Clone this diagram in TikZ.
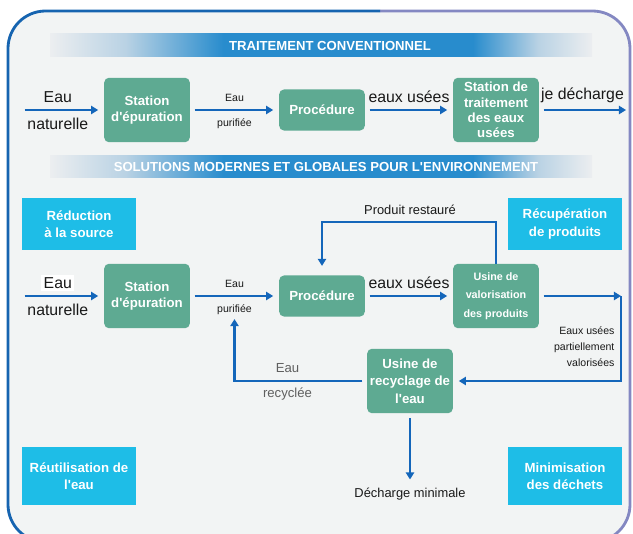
\documentclass[tikz,border=0pt]{standalone}
\usepackage{fontspec}
\setmainfont{Liberation Sans}
\usetikzlibrary{arrows.meta,positioning}

\definecolor{procgreen}{RGB}{94,170,146}
\definecolor{goalcyan}{RGB}{30,189,231}
\definecolor{flowblue}{RGB}{20,102,186}
\definecolor{frameblue}{RGB}{22,100,176}
\definecolor{framegray}{RGB}{132,136,194}
\definecolor{bgpanel}{RGB}{242,244,244}
\definecolor{bannerblue}{RGB}{40,140,205}
\definecolor{bannerlight}{RGB}{236,238,240}
\definecolor{bannermid}{RGB}{185,210,228}
\definecolor{txtgray}{RGB}{95,95,95}
\definecolor{txtdark}{RGB}{25,25,25}

\newcommand{\apos}{\textquotesingle}

\pgfdeclarehorizontalshading{bannerfade}{100bp}{color(0bp)=(bannerlight); color(25bp)=(bannerlight); color(32bp)=(bannermid); color(41bp)=(bannerblue); color(64bp)=(bannerblue); color(70bp)=(bannermid); color(75bp)=(bannerlight); color(100bp)=(bannerlight)}

\begin{document}
\begin{tikzpicture}[x=0.03cm,y=-0.03cm,
    procbox/.style={rectangle, rounded corners=4pt, fill=procgreen, text=white, align=center,
        font=\fontsize{11.3}{13.6}\selectfont\bfseries, minimum width=73pt, minimum height=55pt, inner sep=2pt},
    goalbox/.style={rectangle, fill=goalcyan, text=white, align=center,
        font=\fontsize{11.3}{14.8}\selectfont\bfseries, minimum width=97pt, minimum height=44pt},
    bannertxt/.style={text=white, font=\fontsize{11.2}{13}\selectfont\bfseries},
    flow/.style={draw=flowblue, line width=2.2pt, -{Triangle[length=6pt,width=7pt]}, shorten <=4pt, shorten >=5pt},
    biglbl/.style={text=txtdark, font=\fontsize{13.5}{16}\selectfont, inner sep=2pt},
    smalllbl/.style={text=txtdark, font=\fontsize{9}{13.6}\selectfont, inner sep=2pt},
    graylbl/.style={text=txtgray, font=\fontsize{11.2}{13}\selectfont, inner sep=2pt},
    lbl/.style={text=txtdark, font=\fontsize{11}{13}\selectfont, inner sep=2pt}]

    \useasboundingbox (0,0) rectangle (633,534);
    \fill[white] (0,0) rectangle (633,534);
    \fill[bgpanel, rounded corners=32pt] (8,11) rectangle (630,542);
    \draw[framegray, line width=2.4pt, rounded corners=32pt] (380,11) -- (630,11) -- (630,542) -- (560,542);
    \draw[frameblue, line width=2.4pt, rounded corners=32pt] (380,11) -- (8,11) -- (8,542) -- (100,542);

    % bandeaux
    \shade[shading=bannerfade] (50,34) rectangle (592,57);
    \node[bannertxt] (ban1) at (330,45.5) {TRAITEMENT CONVENTIONNEL};
    \shade[shading=bannerfade] (50,156) rectangle (592,178);
    \node[bannertxt] (ban2) at (326,167) {SOLUTIONS MODERNES ET GLOBALES POUR L\apos ENVIRONNEMENT};

    % traitement conventionnel
    \coordinate (in1) at (20,110);
    \node[procbox] (ep1) at (147,110) {Station\\d\apos épuration};
    \node[procbox, minimum height=35pt] (pr1) at (322,110) {Procédure};
    \node[procbox, font=\fontsize{11.3}{13}\selectfont\bfseries] (tr1) at (496,110) {Station de\\traitement\\des eaux\\usées};
    \coordinate (out1) at (626,110);

    \draw[flow] (in1) -- node[biglbl, above=3pt, pos=0.45] {Eau} node[biglbl, below=4pt, pos=0.45] {naturelle} (ep1);
    \draw[flow] (ep1) -- node[smalllbl, above=4pt] {Eau} node[smalllbl, below=4pt] {purifiée} (pr1);
    \draw[flow] (pr1) -- node[biglbl, above=3pt] {eaux usées} (tr1);
    \draw[flow, shorten >=0pt] (tr1) -- node[biglbl, above=3pt] {je décharge} (out1);

    % solutions modernes
    \node[goalbox] (red) at (79,224) {Réduction\\à la source};
    \node[goalbox] (recup) at (565,224) {Récupération\\de produits};
    \node[goalbox, minimum height=49pt] (reut) at (79,476) {Réutilisation de\\l\apos eau};
    \node[goalbox, minimum height=49pt] (mini) at (565,476) {Minimisation\\des déchets};

    \coordinate (in2) at (20,296);
    \node[procbox] (ep2) at (147,296) {Station\\d\apos épuration};
    \node[procbox, minimum height=35pt] (pr2) at (322,296) {Procédure};
    \node[procbox, font=\fontsize{9.2}{16}\selectfont\bfseries] (va2) at (496,296) {Usine de\\valorisation\\des produits};
    \node[procbox, font=\fontsize{11.3}{14.8}\selectfont\bfseries] (rc2) at (410,381) {Usine de\\recyclage de\\l\apos eau};
    \coordinate (cr2) at (621,296);
    \coordinate (rt) at (410,222);
    \node[lbl] (dech) at (410,494) {Décharge minimale};
    \node[smalllbl, align=right, anchor=east] (part) at (617,347) {Eaux usées\\partiellement\\valorisées};

    \draw[flow] (in2) -- node[biglbl, above=3pt, pos=0.45, fill=white] {Eau} node[biglbl, below=4pt, pos=0.45] {naturelle} (ep2);
    \draw[flow] (ep2) -- node[smalllbl, above=4pt] (pu2a) {Eau} node[smalllbl, below=4pt] (pu2) {purifiée} (pr2);
    \draw[flow] (pr2) -- node[biglbl, above=3pt] {eaux usées} (va2);
    \draw[flow, shorten >=0pt] (va2) -- (cr2);
    \draw[flow, shorten <=0pt] (cr2) |- (rc2);
    \draw[flow, shorten >=1pt] (rc2) -| node[graylbl, above=4pt, pos=0.3] {Eau} node[graylbl, below=3pt, pos=0.3] {recyclée} (pu2);
    \draw[flow, shorten <=0pt, shorten >=8pt] (va2.north) |- (rt) node[lbl, above=3pt] (prod) {Produit restauré} -| (pr2.north);
    \draw[flow] (rc2) -- (dech);
\end{tikzpicture}
\end{document}
